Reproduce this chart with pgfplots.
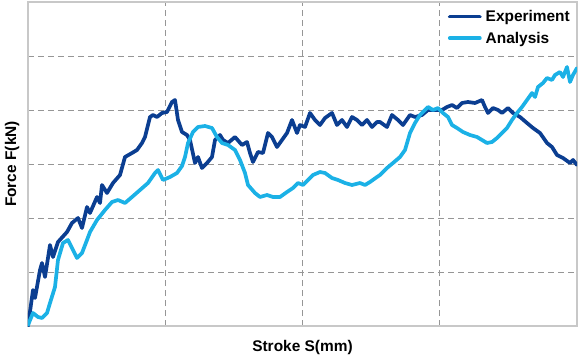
\documentclass[border=0pt]{standalone}
\usepackage{pgfplots}
\pgfplotsset{compat=1.18}
\usepackage{fontspec}
\setmainfont{Liberation Sans}
\definecolor{expblue}{RGB}{11,62,145}
\definecolor{anablue}{RGB}{27,177,230}
\definecolor{gridgray}{RGB}{150,150,150}
\definecolor{framegray}{RGB}{200,200,200}
\begin{document}
\begin{tikzpicture}
\path[use as bounding box] (-28bp,-30bp) rectangle (552bp,326bp);
\begin{axis}[
  at={(0,0)}, anchor=south west,
  width=549bp, height=324bp, scale only axis,
  xmin=0, xmax=549, ymin=0, ymax=324,
  xtick={137.25,274.5,411.75}, ytick={54,108,162,216,270},
  xticklabels={}, yticklabels={},
  major tick length=0pt,
  grid=major,
  major grid style={gridgray, dash pattern=on 6bp off 4bp, line width=0.8bp},
  axis line style={framegray, line width=1.3bp},
  font=\fontsize{15.5}{18}\selectfont\bfseries,
  xlabel={Stroke S(mm)}, ylabel={Force F(kN)},
  xlabel style={at={(axis description cs:0.5,-0.065)}, anchor=center},
  ylabel style={at={(axis description cs:-0.029,0.5)}, anchor=center},
  legend style={at={(1,1)}, anchor=north east, draw=none, fill=none,
    font=\fontsize{15.5}{18}\selectfont\bfseries, row sep=5bp,
    xshift=-1bp, yshift=-4bp, inner sep=2bp,
    nodes={inner xsep=4bp}},
  legend cell align=left,
  legend image code/.code={\draw[#1, line width=3.8bp, line cap=round] (0bp,0bp) -- (30bp,0bp);},
  every axis plot/.append style={line width=3.7bp, line join=round, line cap=round},
]
\addplot[expblue] coordinates {
(0,0)(5,36)(7,28)(12,56)(14,63)(17,49)(22,81)(25,69)(30,84)(39,94)(44,103)(50,108)(54,98)(59,119)(62,113)(69,129)(72,123)(74,141)(79,133)(85,143)(92,151)(97,169)(104,173)(109,176)(114,183)(117,189)(122,209)(125,211)(129,209)(134,213)(139,214)(144,224)(147,226)(150,206)(154,194)(159,191)(162,186)(167,163)(170,169)(174,158)(179,163)(184,169)(187,186)(192,191)(195,186)(200,183)(207,189)(214,181)(219,184)(222,173)(225,164)(230,174)(235,173)(240,193)(244,189)(249,179)(254,186)(259,193)(264,206)(269,193)(272,201)(277,199)(282,213)(287,206)(292,201)(297,208)(304,213)(309,201)(314,206)(319,199)(324,209)(329,206)(334,201)(339,206)(344,199)(349,204)(352,204)(359,199)(364,211)(370,206)(375,201)(382,211)(387,209)(394,211)(400,216)(405,216)(414,216)(419,219)(424,221)(429,218)(434,223)(440,224)(447,223)(454,226)(457,219)(460,213)(465,218)(470,216)(474,213)(480,218)(485,213)(492,209)(499,203)(505,198)(512,193)(519,183)(524,179)(529,171)(535,168)(542,163)(545,166)(549,161)
};
\addlegendentry{Experiment}
\addplot[anablue] coordinates {
(0,1)(5,13)(10,9)(14,8)(19,13)(22,23)(27,39)(30,66)(35,83)(40,86)(45,76)(49,68)(54,73)(59,86)(62,94)(69,106)(77,116)(84,124)(90,126)(97,123)(104,129)(112,136)(120,143)(127,153)(130,156)(135,146)(142,149)(149,153)(154,160)(157,169)(160,183)(165,194)(170,199)(177,200)(184,198)(189,189)(194,183)(200,181)(207,176)(212,166)(217,153)(220,141)(227,133)(232,129)(239,131)(245,129)(252,129)(259,134)(265,138)(270,143)(275,141)(280,146)(285,151)(292,154)(297,153)(304,148)(310,146)(317,143)(324,141)(332,143)(337,141)(342,144)(349,149)(352,151)(359,158)(365,163)(372,169)(377,176)(382,193)(387,203)(392,211)(397,216)(400,219)(405,216)(410,218)(415,213)(420,209)(424,201)(429,198)(435,194)(442,191)(449,189)(454,186)(459,183)(464,184)(469,188)(474,193)(479,198)(484,206)(489,213)(494,219)(499,226)(504,233)(507,229)(510,239)(515,243)(519,248)(524,246)(527,251)(532,254)(535,249)(539,259)(542,244)(545,251)(549,258)
};
\addlegendentry{Analysis}
\end{axis}
\end{tikzpicture}
\end{document}
